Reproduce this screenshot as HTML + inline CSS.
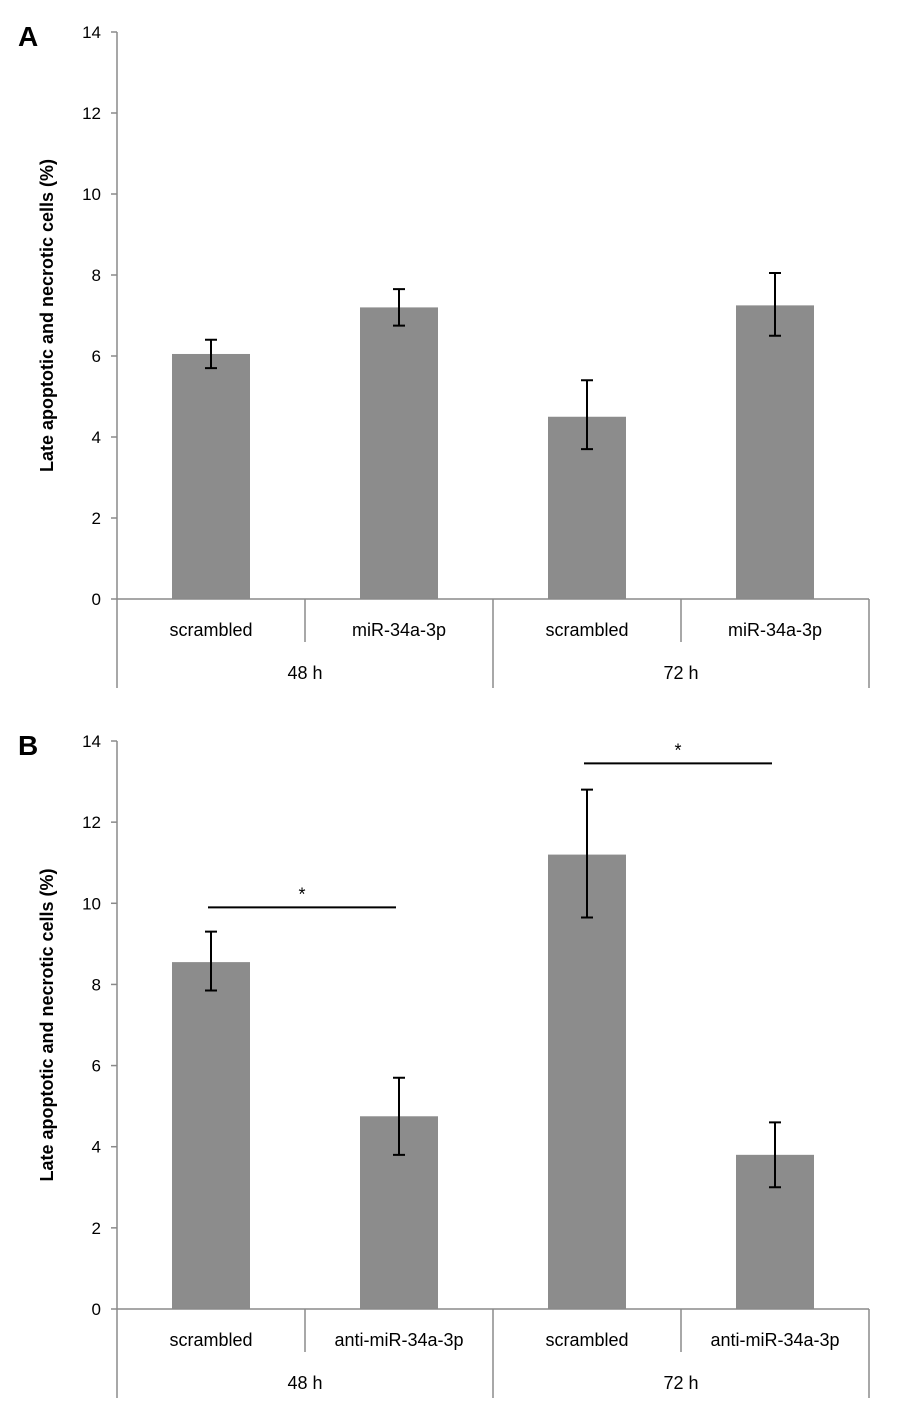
<!DOCTYPE html>
<html><head><meta charset="utf-8"><style>
body{margin:0;background:#fff}
svg{display:block;font-family:"Liberation Sans",Arial,sans-serif}
</style></head><body>
<svg id="chart" width="900" height="1410" viewBox="0 0 900 1410"></svg>
<script>
const categoriesA = ["scrambled","miR-34a-3p","scrambled","miR-34a-3p"];
const valuesA = [6.05, 7.2, 4.5, 7.25];
const errLowA = [5.7, 6.75, 3.7, 6.5];
const errHighA = [6.4, 7.65, 5.4, 8.05];
const categoriesB = ["scrambled","anti-miR-34a-3p","scrambled","anti-miR-34a-3p"];
const valuesB = [8.55, 4.75, 11.2, 3.8];
const errLowB = [7.85, 3.8, 9.65, 3.0];
const errHighB = [9.3, 5.7, 12.8, 4.6];
const groups = ["48 h","72 h"];
const yTicks = [0,2,4,6,8,10,12,14];
const sigB = [[0,1],[2,3]];

const NS="http://www.w3.org/2000/svg";
const svg=document.getElementById('chart');
function mk(tag,attrs,parent){const e=document.createElementNS(NS,tag);for(const k in attrs)e.setAttribute(k,attrs[k]);(parent||svg).appendChild(e);return e;}

function panel(letter,y0,y14,cats,vals,lo,hi,sig,sigY){
  const g=mk('g',{});
  
  
  const x0=117,x1=869,slot=(x1-x0)/4;
  const y=v=>y0+(y14-y0)*v/14;
  const xc=i=>x0+slot*(i+0.5);
  const L=mk('text',{x:18,y:y14+14,'font-size':28,'font-weight':'bold',fill:'#000'},g);L.textContent=letter;
  
  
  mk('line',{x1:x0,y1:y14,x2:x0,y2:y0,stroke:'#8a8a8a','stroke-width':1.5},g);
  yTicks.forEach(t=>{
    mk('line',{x1:x0-6,y1:y(t),x2:x0,y2:y(t),stroke:'#8a8a8a','stroke-width':1.5},g);
    const tx=mk('text',{x:x0-16,y:y(t)+6,'font-size':17,'text-anchor':'end',fill:'#000'},g);tx.textContent=t;
    
    
  });
  const yl=mk('text',{x:0,y:0,'font-size':18,'font-weight':'bold','text-anchor':'middle',transform:`translate(53,${(y0+y14)/2}) rotate(-90)`},g);
  yl.textContent='Late apoptotic and necrotic cells (%)';
  
  
  vals.forEach((v,i)=>{
    const b=mk('rect',{x:xc(i)-39,y:y(v),width:78,height:y0-y(v),fill:'#8c8c8c'},g);
    
    
    const eb=mk('path',{d:`M${xc(i)},${y(lo[i])}V${y(hi[i])}M${xc(i)-6},${y(lo[i])}H${xc(i)+6}M${xc(i)-6},${y(hi[i])}H${xc(i)+6}`,stroke:'#000','stroke-width':2,fill:'none'},g);
    
    
    const ct=mk('text',{x:xc(i),y:y0+37,'font-size':18,'text-anchor':'middle'},g);ct.textContent=cats[i];
    
    
  });
  mk('line',{x1:x0,y1:y0,x2:x1,y2:y0,stroke:'#8a8a8a','stroke-width':1.5},g);
  [0,1,2,3,4].forEach(k=>{
    const len=(k%2===0)?89:43;
    mk('line',{x1:x0+slot*k,y1:y0,x2:x0+slot*k,y2:y0+len,stroke:'#8a8a8a','stroke-width':1.5},g);
  });
  groups.forEach((gname,k)=>{
    const gt=mk('text',{x:x0+slot*(2*k+1),y:y0+80,'font-size':18,'text-anchor':'middle'},g);gt.textContent=gname;
    
    
  });
  (sig||[]).forEach((p,k)=>{
    const sy=y(sigY[k]);
    const a=xc(p[0])-3,b=xc(p[1])-3;
    const sl=mk('line',{x1:a,y1:sy,x2:b,y2:sy,stroke:'#000','stroke-width':2},g);
    
    
    const st=mk('text',{x:(a+b)/2,y:sy-7,'font-size':18,'text-anchor':'middle'},g);st.textContent='*';
    
    
  });
}
panel('A',599,32,categoriesA,valuesA,errLowA,errHighA,null,null);
panel('B',1309,741,categoriesB,valuesB,errLowB,errHighB,sigB,[9.9,13.45]);
</script>
</body></html>
